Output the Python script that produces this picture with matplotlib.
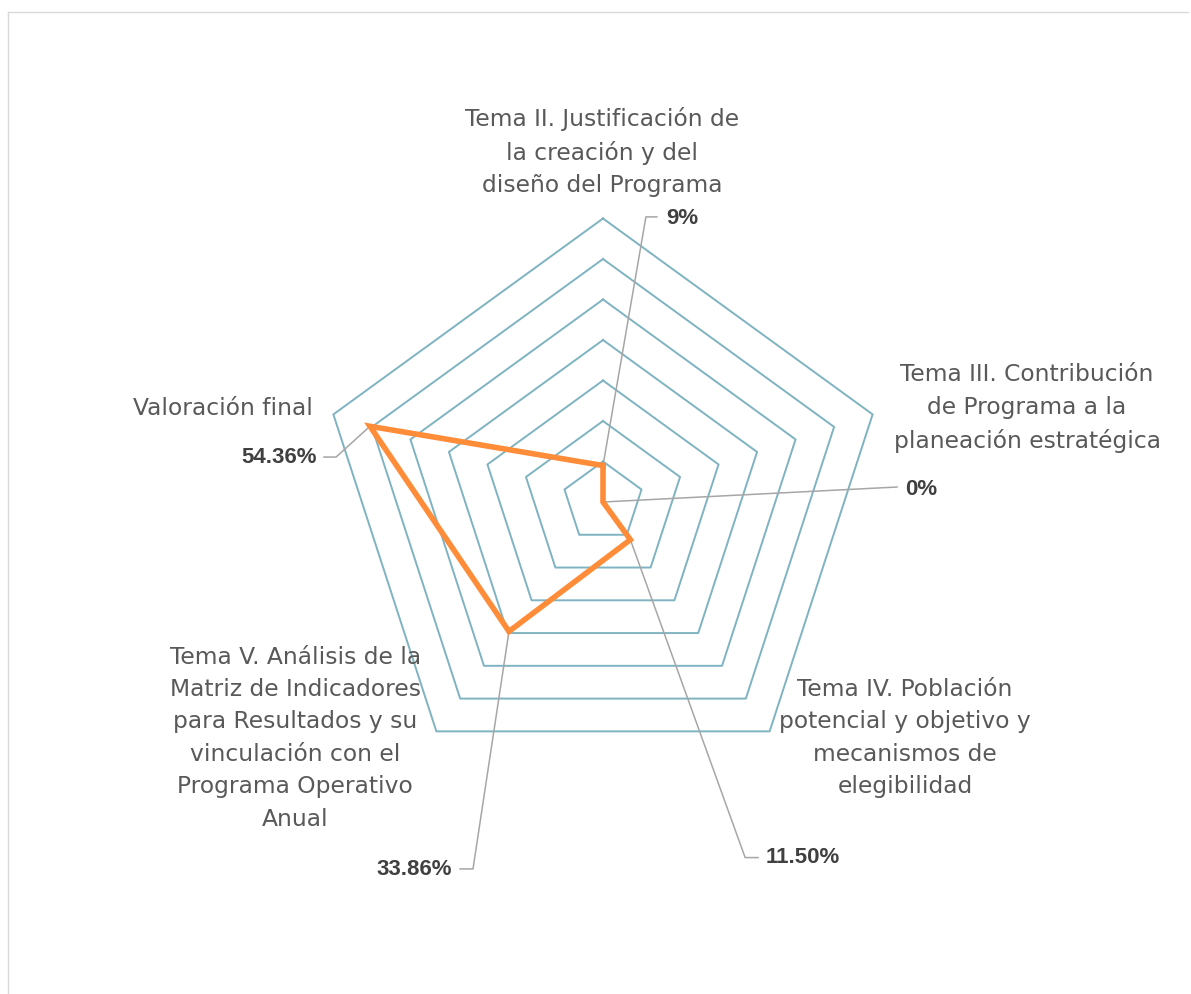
import numpy as np
import matplotlib
matplotlib.use("Agg")
import matplotlib.pyplot as plt

# Datos del gráfico radial
temas = [
    "Tema II. Justificación de\nla creación y del\ndiseño del Programa",
    "Tema III. Contribución\nde Programa a la\nplaneación estratégica",
    "Tema IV. Población\npotencial y objetivo y\nmecanismos de\nelegibilidad",
    "Tema V. Análisis de la\nMatriz de Indicadores\npara Resultados y su\nvinculación con el\nPrograma Operativo\nAnual",
    "Valoración final",
]
valores = [0.09, 0.0, 0.115, 0.395, 0.605]          # posición
etiquetas = ["9%", "0%", "11.50%", "33.86%", "54.36%"]  # texto de las etiquetas
anillos = [0.1, 0.2, 0.3, 0.4, 0.5, 0.6, 0.7]

# Ubicación de los textos (unidades del eje, centro = 0,0)
pos_tema = [(-0.002, 0.864), (1.047, 0.232), (0.746, -0.583),
            (-0.760, -0.583), (-0.938, 0.232)]
# (codo de la línea guía, fin de la línea, posición del texto, alineación)
guias = [
    ((0.106, 0.704), (0.133, 0.704), (0.155, 0.701), "left"),
    (None,           (0.726, 0.037), (0.746, 0.030), "left"),
    ((0.351, -0.878), (0.383, -0.878), (0.402, -0.879), "left"),
    ((-0.321, -0.906), (-0.353, -0.906), (-0.372, -0.908), "right"),
    ((-0.659, 0.111), (-0.689, 0.111), (-0.706, 0.111), "right"),
]

PX = 405.0       # pixeles por unidad
CX, CY = 603, 502
W, H = 1191, 994

angulos = np.deg2rad(90 - 72 * np.arange(len(temas)))

fig = plt.figure(figsize=(W / 100, H / 100), dpi=100)
ax = fig.add_axes([0, 0, 1, 1])
ax.set_xlim(-CX / PX, (W - CX) / PX)
ax.set_ylim(-(H - CY) / PX, CY / PX)
ax.axis("off")

# Marco de la gráfica
fig.add_artist(plt.Line2D([8 / W, 8 / W], [0, 1 - 12 / H], color="#d9d9d9", lw=1))
fig.add_artist(plt.Line2D([8 / W, 1188 / W], [1 - 12 / H, 1 - 12 / H], color="#d9d9d9", lw=1))

# Anillos pentagonales
for r in anillos:
    xs = np.append(r * np.cos(angulos), r * np.cos(angulos[0]))
    ys = np.append(r * np.sin(angulos), r * np.sin(angulos[0]))
    ax.plot(xs, ys, color="#7fb3c1", lw=1.4, zorder=1)

# Serie
v = np.array(valores)
xs = v * np.cos(angulos)
ys = v * np.sin(angulos)
ax.plot(np.append(xs, xs[0]), np.append(ys, ys[0]), color="#ff8c38",
        lw=4.0, solid_joinstyle="miter", zorder=3)

# Líneas guía y etiquetas de datos
for i, (codo, fin, txt, ha) in enumerate(guias):
    px = [xs[i]] + ([codo[0]] if codo else []) + [fin[0]]
    py = [ys[i]] + ([codo[1]] if codo else []) + [fin[1]]
    ax.plot(px, py, color="#a6a6a6", lw=1.1, zorder=2)
    ax.text(txt[0], txt[1], etiquetas[i], ha=ha, va="center",
            fontsize=16, fontweight="bold", family="Liberation Sans",
            color="#404040")

# Nombres de los temas
for (tx, ty), t in zip(pos_tema, temas):
    ax.text(tx, ty, t, ha="center", va="center", fontsize=16.8,
            color="#595959", linespacing=1.52, family="DejaVu Sans")

fig.savefig("out.png", dpi=100)
